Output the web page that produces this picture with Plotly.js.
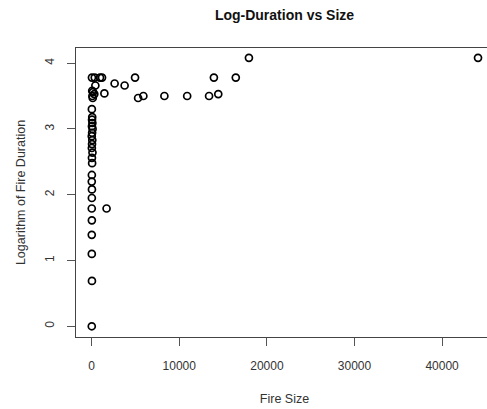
<!DOCTYPE html>
<html>
<head>
<meta charset="utf-8">
<script src="https://cdn.plot.ly/plotly-3.0.1.min.js"></script>
<style>
html,body{margin:0;padding:0;overflow:hidden;background:#fff;}
#chart{width:497px;height:409px;}
</style>
</head>
<body>
<div id="chart"></div>
<script>
// Fire size (x) and logarithm of fire duration (y)
const fireSize = [
  44100, 17950,
  13950, 16450, 4950, 30, 350, 950, 1180,
  2620, 3760, 420,
  13400, 14450, 5300, 5900, 8300, 10900,
  1450,
  60, 150, 300, 80, 120,
  1700,
  20, 60, 40, 80, 30, 100, 50, 10, 70, 40, 20, 90, 30, 50,
  20, 10, 30, 20, 10, 20, 10, 15, 30, 10
];
const logDuration = [
  4.08, 4.08,
  3.78, 3.78, 3.78, 3.78, 3.78, 3.78, 3.78,
  3.69, 3.66, 3.66,
  3.50, 3.53, 3.47, 3.50, 3.50, 3.50,
  3.54,
  3.58, 3.56, 3.53, 3.50, 3.47,
  1.79,
  3.30, 3.18, 3.14, 3.09, 3.04, 3.00, 2.94, 2.89, 2.83, 2.77, 2.71, 2.64, 2.56, 2.48,
  2.30, 2.20, 2.08, 1.95, 1.79, 1.61, 1.39, 1.10, 0.69, 0.00
];
const xTicks = [0, 10000, 20000, 30000, 40000];
const xTickText = ["0", "10000", "20000", "30000", "40000"];
const yTicks = [0, 1, 2, 3, 4];
const yTickText = ["0", "1", "2", "3", "4"];

const FONT = '"Liberation Sans", Arial, Helvetica, sans-serif';

const trace = {
  x: fireSize,
  y: logDuration,
  type: 'scatter',
  mode: 'markers',
  marker: {symbol: 'circle-open', size: 7, color: '#000', line: {width: 1.7, color: '#000'}},
  hoverinfo: 'x+y'
};

const layout = {
  width: 497, height: 409,
  margin: {l: 76, r: 4, t: 48, b: 72, pad: 0},
  paper_bgcolor: '#fff', plot_bgcolor: '#fff',
  showlegend: false,
  font: {family: FONT, size: 12, color: '#333'},
  title: {text: '<b>Log-Duration vs Size</b>', font: {family: FONT, size: 14, color: '#111'},
          xref: 'paper', x: 0.5, xanchor: 'center', yref: 'container', y: 1 - 15/409, yanchor: 'middle'},
  xaxis: {
    range: [-1790, 45810], autorange: false,
    tickmode: 'array', tickvals: xTicks, ticktext: xTickText,
    ticks: 'outside', ticklen: 8, tickwidth: 1, tickcolor: '#555',
    ticklabelstandoff: 10,
    showgrid: false, zeroline: false,
    showline: true, mirror: true, linecolor: '#444', linewidth: 1,
    tickfont: {family: FONT, size: 12, color: '#333'},
    title: {text: 'Fire Size', font: {family: FONT, size: 12.5, color: '#333'}, standoff: 21}
  },
  yaxis: {
    range: [-0.163, 4.23], autorange: false,
    tickmode: 'array', tickvals: yTicks, ticktext: yTickText,
    ticks: 'outside', ticklen: 8, tickwidth: 1, tickcolor: '#555',
    tickangle: -90, ticklabelstandoff: 8,
    showgrid: false, zeroline: false,
    showline: true, mirror: true, linecolor: '#444', linewidth: 1,
    tickfont: {family: FONT, size: 12, color: '#333'},
    title: {text: 'Logarithm of Fire Duration', font: {family: FONT, size: 12.5, color: '#333'}, standoff: 14}
  }
};

Plotly.newPlot('chart', [trace], layout, {displayModeBar: false, staticPlot: true});
</script>
</body>
</html>
